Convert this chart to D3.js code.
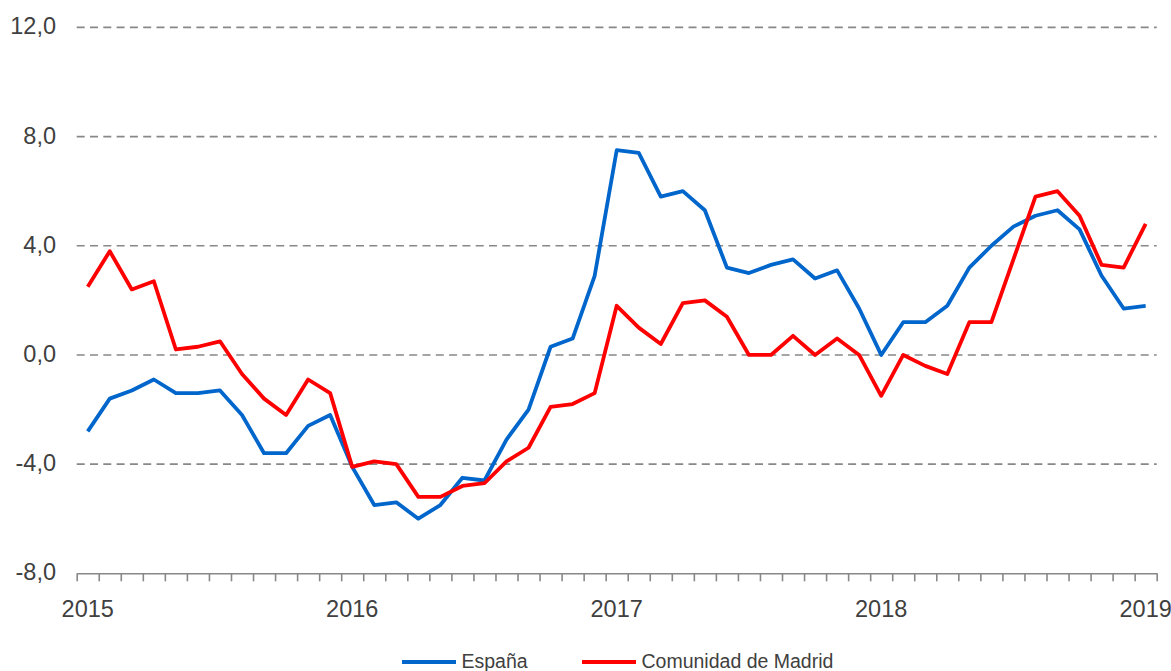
<!DOCTYPE html>
<html>
<head>
<meta charset="utf-8">
<script src="https://cdnjs.cloudflare.com/ajax/libs/d3/7.8.5/d3.min.js"></script>
<style>
    body { margin: 0; background: #fff; }
    #chart { width: 1171px; height: 671px; }
    text { font-family: "Liberation Sans", Arial, sans-serif; fill: #404040; }
</style>
</head>
<body>
<div id="chart"></div>
<script>
// monthly values, Jan 2015 .. Jan 2019
const years = ['2015', '2016', '2017', '2018', '2019'];
const yTicks = [-8, -4, 0, 4, 8, 12];

const espana = [
    -2.8, -1.6, -1.3, -0.9, -1.4, -1.4, -1.3, -2.2, -3.6, -3.6, -2.6, -2.2,
    -4.1, -5.5, -5.4, -6.0, -5.5, -4.5, -4.6, -3.1, -2.0, 0.3, 0.6, 2.9,
    7.5, 7.4, 5.8, 6.0, 5.3, 3.2, 3.0, 3.3, 3.5, 2.8, 3.1, 1.7,
    0.0, 1.2, 1.2, 1.8, 3.2, 4.0, 4.7, 5.1, 5.3, 4.6, 2.9, 1.7,
    1.8
];

const madrid = [
    2.5, 3.8, 2.4, 2.7, 0.2, 0.3, 0.5, -0.7, -1.6, -2.2, -0.9, -1.4,
    -4.1, -3.9, -4.0, -5.2, -5.2, -4.8, -4.7, -3.9, -3.4, -1.9, -1.8, -1.4,
    1.8, 1.0, 0.4, 1.9, 2.0, 1.4, 0.0, 0.0, 0.7, 0.0, 0.6, 0.0,
    -1.5, 0.0, -0.4, -0.7, 1.2, 1.2, 3.5, 5.8, 6.0, 5.1, 3.3, 3.2,
    4.8
];

const series = [
    { name: 'España', values: espana, color: '#0066CC' },
    { name: 'Comunidad de Madrid', values: madrid, color: '#FF0000' }
];

class LineChart {

    constructor(opts) {
        this.element = opts.element;
        this.series = opts.series;
        this.draw();
    }

    draw() {
        this.width = 1171;
        this.height = 671;
        this.margin = { top: 27.4, right: 14.3, bottom: 97.7, left: 76.7 };

        const svg = d3.select(this.element).append('svg')
            .attr('width', this.width)
            .attr('height', this.height);
        this.svg = svg;

        this.createScales();
        this.addGrid();
        this.addAxes();
        this.addLines();
        this.addLegend();
    }

    createScales() {
        const n = this.series[0].values.length;
        this.n = n;
        // one slot per month, points sit in the middle of the slot
        this.xScale = d3.scaleLinear()
            .domain([0, n])
            .range([this.margin.left, this.width - this.margin.right]);

        this.yScale = d3.scaleLinear()
            .domain([-8, 12])
            .range([this.height - this.margin.bottom, this.margin.top]);
    }

    addGrid() {
        const grid = this.svg.append('g').attr('class', 'grid');
        grid.selectAll('line')
            .data(yTicks.filter(d => d > -8))
            .enter()
            .append('line')
            .attr('x1', this.xScale(0))
            .attr('x2', this.xScale(this.n))
            .attr('y1', d => this.yScale(d))
            .attr('y2', d => this.yScale(d))
            .attr('stroke', '#888')
            .attr('stroke-width', 1.6)
            .attr('stroke-dasharray', '8,5.3');

        // plain hyphen and decimal comma, as in the original
        const fmt = d => d3.format('.1f')(d).replace('.', ',').replace('\u2212', '-');

        this.svg.append('g')
            .selectAll('text')
            .data(yTicks)
            .enter()
            .append('text')
            .attr('x', 56)
            .attr('y', d => this.yScale(d))
            .attr('dy', '0.3em')
            .attr('text-anchor', 'end')
            .attr('font-size', 23.5)
            .text(fmt);
    }

    addAxes() {
        const xAxis = d3.axisBottom(this.xScale)
            .tickValues(d3.range(this.n + 1))
            .tickFormat('')
            .tickSize(8)
            .tickSizeOuter(0);

        const g = this.svg.append('g')
            .attr('transform', `translate(0,${this.yScale(-8)})`)
            .call(xAxis);
        g.select('.domain').attr('stroke', '#888').attr('stroke-width', 1.6);
        g.selectAll('.tick line').attr('stroke', '#888').attr('stroke-width', 1.6);

        this.svg.append('g')
            .selectAll('text')
            .data(years)
            .enter()
            .append('text')
            .attr('x', (d, i) => this.xScale(i * 12 + 0.5))
            .attr('y', 617)
            .attr('text-anchor', 'middle')
            .attr('font-size', 23.5)
            .text(d => d);
    }

    addLines() {
        const line = d3.line()
            .x((d, i) => this.xScale(i + 0.5))
            .y(d => this.yScale(d));

        this.svg.append('g')
            .selectAll('path')
            .data(this.series)
            .enter()
            .append('path')
            .attr('d', d => line(d.values))
            .attr('fill', 'none')
            .attr('stroke', d => d.color)
            .attr('stroke-width', 3.8)
            .attr('stroke-linejoin', 'round');
    }

    addLegend() {
        const pos = [402, 582];
        const items = this.svg.append('g')
            .selectAll('g')
            .data(this.series)
            .enter()
            .append('g')
            .attr('transform', (d, i) => `translate(${pos[i]},662)`);

        items.append('line')
            .attr('x1', 0)
            .attr('x2', 54)
            .attr('stroke', d => d.color)
            .attr('stroke-width', 3.8);

        items.append('text')
            .attr('x', 59.5)
            .attr('y', 0)
            .attr('dy', '0.3em')
            .attr('font-size', 19.5)
            .text(d => d.name);
    }
}

new LineChart({ element: document.getElementById('chart'), series: series });
</script>
</body>
</html>
